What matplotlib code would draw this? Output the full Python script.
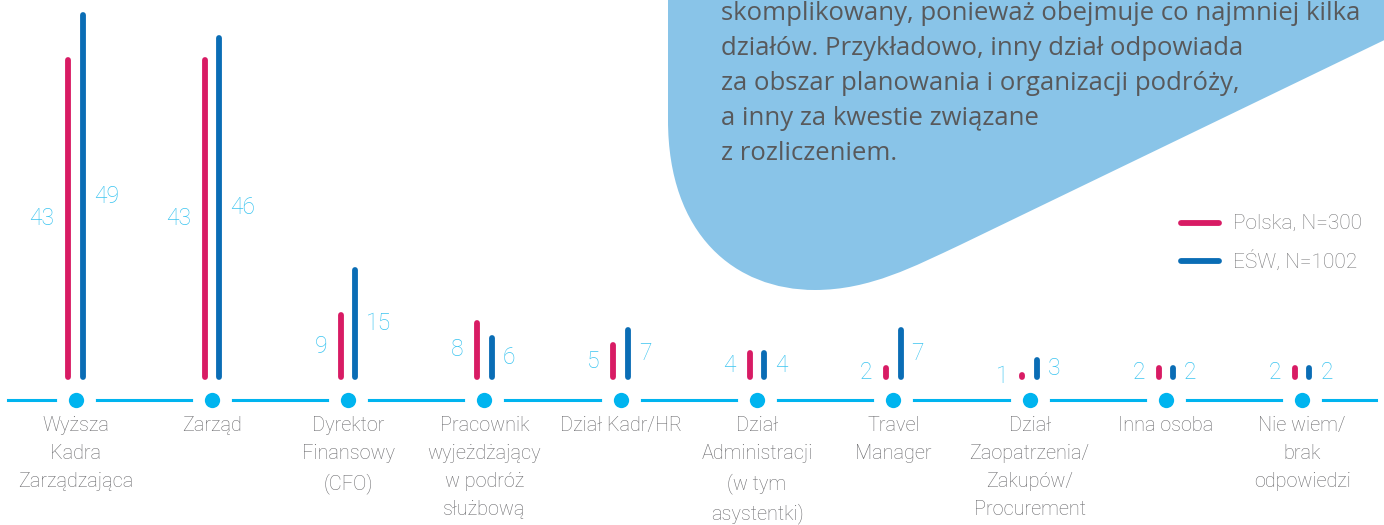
import matplotlib
matplotlib.use("Agg")
import matplotlib.pyplot as plt
from matplotlib.path import Path
from matplotlib.patches import PathPatch
from matplotlib.lines import Line2D

# dane
kategorie = [
    "Wyższa\nKadra\nZarządzająca",
    "Zarząd",
    "Dyrektor\nFinansowy\n(CFO)",
    "Pracownik\nwyjeżdżający\nw podróż\nsłużbową",
    "Dział Kadr/HR",
    "Dział\nAdministracji\n(w tym\nasystentki)",
    "Travel\nManager",
    "Dział\nZaopatrzenia/\nZakupów/\nProcurement",
    "Inna osoba",
    "Nie wiem/\nbrak\nodpowiedzi",
]
polska = [43, 43, 9, 8, 5, 4, 2, 1, 2, 2]
esw = [49, 46, 15, 6, 7, 4, 7, 3, 2, 2]
serie = ["Polska, N=300", "EŚW, N=1002"]

opis = [
    "skomplikowany, ponieważ obejmuje co najmniej kilka",
    "działów. Przykładowo, inny dział odpowiada",
    "za obszar planowania i organizacji podróży,",
    "a inny za kwestie związane",
    "z rozliczeniem.",
]

ROZ = "#d81b64"
NIEB = "#0a6db5"
CYJAN = "#00b4ef"
CYJAN_TXT = "#3ac4f0"
SZARY = "#6a6a6d"
TLO_BLOB = "#89c4e8"
TXT_BLOB = "#58595b"

W, H = 1384, 525
fig = plt.figure(figsize=(W / 100, H / 100), dpi=100)
plt.rcParams["font.family"] = ["Roboto", "DejaVu Sans"]


def fx(px):
    return px / W


def fy(py):
    return 1 - py / H


# niebieski kształt z tekstem
wierzcholki = [
    (668, -20), (668, 120),
    (668, 235), (735, 290), (815, 290),
    (870, 290), (915, 266), (960, 245),
    (1430, 18), (1430, -20), (668, -20),
]
kody = [Path.MOVETO, Path.LINETO,
        Path.CURVE4, Path.CURVE4, Path.CURVE4,
        Path.CURVE4, Path.CURVE4, Path.CURVE4,
        Path.LINETO, Path.LINETO, Path.CLOSEPOLY]
sciezka = Path([(fx(x), fy(y)) for x, y in wierzcholki], kody)
fig.patches.append(PathPatch(sciezka, transform=fig.transFigure,
                             facecolor=TLO_BLOB, edgecolor="none", zorder=0))

for i, linia in enumerate(opis):
    fig.text(fx(721), fy(14 + 34.8 * i), linia, color=TXT_BLOB, fontsize=18.5,
             family=["Open Sans", "DejaVu Sans"], ha="left", va="center")

# oś z wykresem
ax = fig.add_axes([0, 0, 1, 1])
ax.set_xlim(-75.5 / 136.3, (W - 75.5) / 136.3)
ax.set_ylim(-(H - 380) / 7.5, 380 / 7.5)
ax.axis("off")
ax.patch.set_alpha(0)

przes = 0.053
szer = 4.2
cap = szer / 0.72 / 2 / 7.5

for i in range(len(kategorie)):
    for wart, dx, kolor in [(polska[i], -przes, ROZ), (esw[i], przes, NIEB)]:
        y0 = cap
        y1 = max(wart - cap, y0 + 0.01)
        ax.plot([i + dx, i + dx], [y0, y1], color=kolor, lw=szer,
                solid_capstyle="round", zorder=3)
    ax.annotate(str(polska[i]), (i - przes, polska[i] / 2), xytext=(-10, 0),
                textcoords="offset points", ha="right", va="center",
                color=CYJAN_TXT, fontsize=16.5, fontweight="light")
    ax.annotate(str(esw[i]), (i + przes, esw[i] / 2), xytext=(8, 0),
                textcoords="offset points", ha="left", va="center",
                color=CYJAN_TXT, fontsize=16.5, fontweight="light")
    ax.text(i, -4.8, kategorie[i], ha="center", va="top", color=SZARY,
            fontsize=14.3, fontweight="light", linespacing=1.6)

# linia bazowa z kropkami
y_baza = -20 / 7.5
ax.plot([-67.5 / 136.3, (1376 - 75.5) / 136.3], [y_baza, y_baza],
        color=CYJAN, lw=2.2, zorder=1)
xs = list(range(len(kategorie)))
ax.plot(xs, [y_baza] * len(xs), "o", ms=28, mew=0, color="white", zorder=2)
ax.plot(xs, [y_baza] * len(xs), "o", ms=11, mew=0, color=CYJAN, zorder=3)

# legenda
for j, (nazwa, kolor) in enumerate(zip(serie, [ROZ, NIEB])):
    yy = 223 + 38 * j
    fig.add_artist(Line2D([fx(1181), fx(1219)], [fy(yy), fy(yy)], color=kolor,
                          lw=4.2, solid_capstyle="round"))
    fig.text(fx(1233), fy(yy), nazwa, color="#7a7a7c", fontsize=15,
             fontweight="light", ha="left", va="center")

fig.savefig("out.png", dpi=100)
